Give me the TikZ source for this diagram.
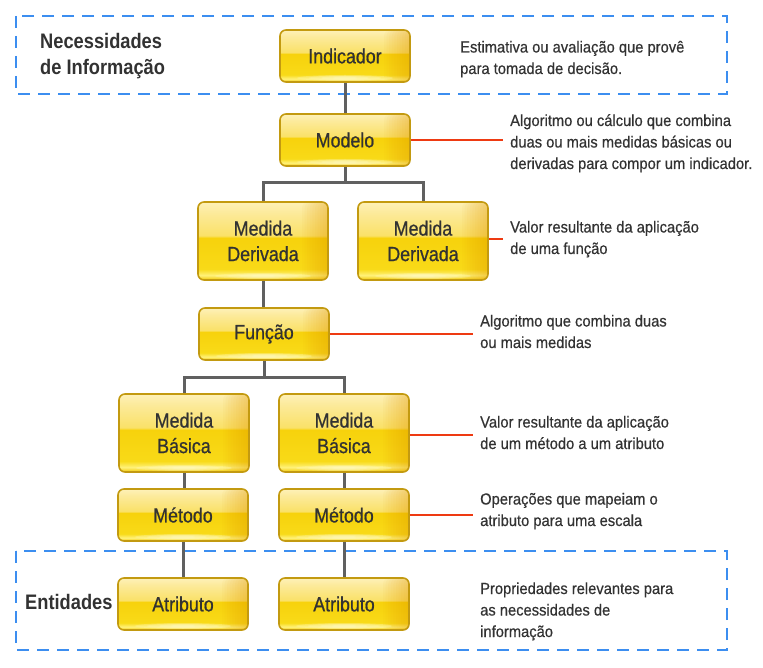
\documentclass[tikz,border=0pt]{standalone}
\usepackage{fontspec}
\setmainfont[FakeStretch=0.87]{Liberation Sans}
\newfontfamily\descfam[FakeStretch=0.92, FakeBold=0.5]{Liberation Sans}
\newfontfamily\boxfam[FakeStretch=0.87, FakeBold=0.7]{Liberation Sans}
\definecolor{txt}{HTML}{323232}
\definecolor{boxedge}{HTML}{C39A10}
\definecolor{edgeorange}{HTML}{E39A00}
\definecolor{glow}{HTML}{FFFBD0}
\definecolor{conncol}{HTML}{606060}
\definecolor{redcol}{HTML}{EE3A12}
\definecolor{bluecol}{HTML}{3C8EF0}
\definecolor{gA}{HTML}{F0C400}
\definecolor{gB}{HTML}{FFF27A}
\definecolor{gC}{HTML}{F8DA18}
\definecolor{gD}{HTML}{F7D20C}
\definecolor{gE}{HTML}{FAE168}
\definecolor{gF}{HTML}{FCEA9A}
\definecolor{gG}{HTML}{FEF1B8}
\pgfdeclareverticalshading{glossy}{100bp}{color(0bp)=(gA); color(25bp)=(gA); color(28bp)=(gB); color(32bp)=(gC); color(52bp)=(gD); color(53.5bp)=(gE); color(68bp)=(gF); color(75bp)=(gG); color(100bp)=(gG)}
\newcommand{\nodefnt}{\boxfam\fontsize{20.5}{25.5}\selectfont}
\newcommand{\descfnt}{\descfam\fontsize{16}{21.5}\selectfont}
\newcommand{\labfnt}{\bfseries\fontsize{21}{26}\selectfont}
\tikzset{
  box/.style={rounded corners=6pt, draw=boxedge, line width=1.6pt, shading=glossy,
    inner sep=0pt, minimum width=130pt, minimum height=52pt, font=\nodefnt,
    text=txt, align=center,
    path picture={
      \foreach \i in {1,...,10} {
        \fill[edgeorange, fill opacity=0.045]
          ([xshift={-2.6pt*\i}]path picture bounding box.north east) rectangle (path picture bounding box.south east);
      }
      \foreach \r in {1,...,4} {
        \fill[glow, fill opacity=0.25]
          ([yshift=4pt]path picture bounding box.south) ellipse [x radius={12pt*\r}, y radius={1pt+0.5pt*\r}];
      }
    }},
  tallbox/.style={box, minimum height=78pt},
  conn/.style={draw=conncol, line width=3pt},
  redline/.style={draw=redcol, line width=2pt},
  dashbox/.style={draw=bluecol, line width=2pt, dash pattern=on 12pt off 8pt},
  desc/.style={anchor=base west, inner xsep=7pt, inner ysep=0pt, align=left, font=\descfnt, text=txt},
  lab/.style={anchor=base west, inner sep=0pt, align=left, font=\labfnt, text=txt},
}
\begin{document}
\begin{tikzpicture}[x=1pt, y=-1pt]
\useasboundingbox (0,0) rectangle (763,668);
% dashed groups
\draw[dashbox] (16,16) rectangle (727,94);
\draw[dashbox] (16,551) rectangle (727,650);
% group labels (base = baseline of last line)
\node[lab] (necess) at (40,75) {Necessidades\\de Informação};
\node[lab] (entid) at (25,609) {Entidades};
% boxes
\node[box] (ind) at (345,56) {Indicador};
\node[box] (mod) at (345,140) {Modelo};
\node[tallbox] (md1) at (263,241) {Medida\\Derivada};
\node[tallbox] (md2) at (423,241) {Medida\\Derivada};
\node[box] (fun) at (264,334) {Função};
\node[tallbox] (mb1) at (184,433) {Medida\\Básica};
\node[tallbox] (mb2) at (344,433) {Medida\\Básica};
\node[box] (met1) at (183,515) {Método};
\node[box] (met2) at (344,515) {Método};
\node[box] (at1) at (183,604) {Atributo};
\node[box] (at2) at (344,604) {Atributo};
% junctions
\coordinate (j1) at (345,183);
\coordinate (j2) at (264,377);
% connectors
\draw[conn] (ind.south) -- (mod.north);
\draw[conn] (mod.south) -- (j1);
\draw[conn] (md1.north) |- (j1) -| (md2.north);
\draw[conn] (md1.south) -- (md1.south |- fun.north);
\draw[conn] (fun.south) -- (j2);
\draw[conn] (mb1.north) |- (j2) -| (mb2.north);
\draw[conn] (mb1.south) -- (mb1.south |- met1.north);
\draw[conn] (mb2.south) -- (met2.north);
\draw[conn] (met1.south) -- (at1.north);
\draw[conn] (met2.south) -- (at2.north);
% descriptions (base = baseline of last line)
\node[desc] (d1) at (453,74) {Estimativa ou avaliação que provê\\para tomada de decisão.};
\node[desc] (d2) at (503,169) {Algoritmo ou cálculo que combina\\duas ou mais medidas básicas ou\\derivadas para compor um indicador.};
\node[desc] (d3) at (503,254) {Valor resultante da aplicação\\de uma função};
\node[desc] (d4) at (473,348) {Algoritmo que combina duas\\ou mais medidas};
\node[desc] (d5) at (473,449) {Valor resultante da aplicação\\de um método a um atributo};
\node[desc] (d6) at (473,526) {Operações que mapeiam o\\atributo para uma escala};
\node[desc] (d7) at (473,637) {Propriedades relevantes para\\as necessidades de\\informação};
% red leaders
\draw[redline] (mod.east) -- (mod.east -| d2.west);
\draw[redline] ([yshift=2pt]md2.east) -- ([yshift=2pt]md2.east -| d3.west);
\draw[redline] (fun.east) -- (fun.east -| d4.west);
\draw[redline] ([yshift=-2pt]mb2.east) -- ([yshift=-2pt]mb2.east -| d5.west);
\draw[redline] (met2.east) -- (met2.east -| d6.west);
\end{tikzpicture}
\end{document}
